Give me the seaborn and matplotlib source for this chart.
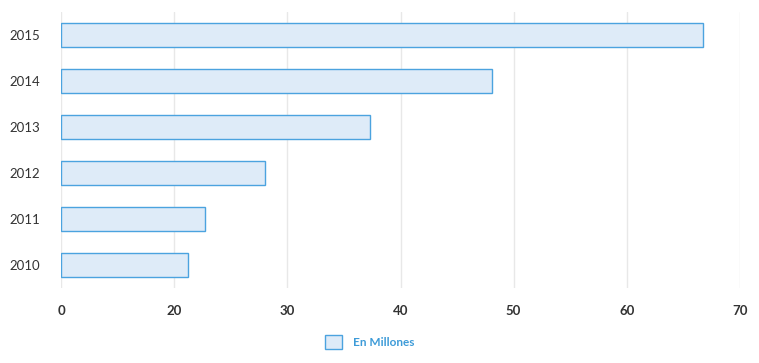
import matplotlib
matplotlib.use("Agg")
import matplotlib.pyplot as plt
import seaborn as sns
import pandas as pd
from matplotlib.patches import Patch

years = ["2015", "2014", "2013", "2012", "2011", "2010"]
values = [66.7, 48.1, 37.3, 28.0, 22.7, 21.2]
x_ticks = [10, 20, 30, 40, 50, 60, 70]
x_tick_labels = ["0", "20", "30", "40", "50", "60", "70"]
series_name = "En Millones"

sns.set_style("white")
plt.rcParams["font.family"] = ["Lato", "DejaVu Sans"]

df = pd.DataFrame({"year": years, "value": values})

fig = plt.figure(figsize=(7.59, 3.63), dpi=100)
ax = fig.add_axes([61 / 759, 1 - 288 / 363, (740 - 61) / 759, (288 - 12) / 363])

fill = "#deebf8"
edge = "#4ba3df"
sns.barplot(data=df, x="value", y="year", order=years, orient="h", ax=ax,
            color=fill, edgecolor=edge, linewidth=1.0, width=0.52, saturation=1)

# axis starts at the first gridline, so bars begin there
base = x_ticks[0]
for p in ax.patches:
    w = p.get_width()
    p.set_x(base)
    p.set_width(w - base)

ax.set_xlim(x_ticks[0], x_ticks[-1])
ax.set_xticks(x_ticks)
ax.set_xticklabels(x_tick_labels, fontsize=9.5, fontweight="bold", color="#333333")
ax.tick_params(axis="y", labelsize=9.5, labelcolor="#333333", length=0, pad=15)
ax.tick_params(axis="x", length=0, pad=12)
ax.set_xlabel("")
ax.set_ylabel("")

ax.grid(axis="x", color="#e8e8e8", linewidth=1)
ax.set_axisbelow(True)
for s in ax.spines.values():
    s.set_visible(False)

handle = Patch(facecolor=fill, edgecolor=edge, linewidth=1.0)
leg = fig.legend([handle], [series_name], loc="center", bbox_to_anchor=(370 / 759, 1 - 342 / 363),
                 frameon=False, fontsize=8.5, handlelength=1.4, handleheight=1.4, handletextpad=1.0)
for t in leg.get_texts():
    t.set_color("#3d9bd8")
    t.set_fontweight("bold")

fig.savefig("out.png", dpi=100)
